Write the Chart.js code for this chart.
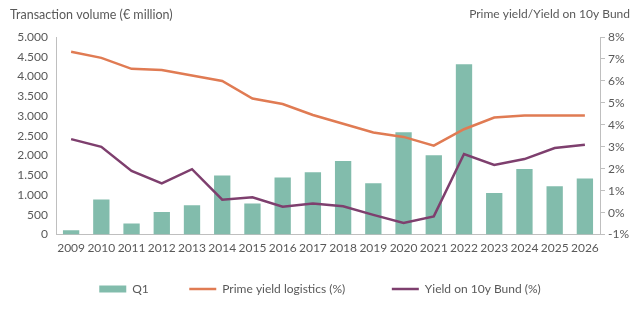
<!DOCTYPE html>
<html><head><meta charset="utf-8">
<script src="https://cdn.jsdelivr.net/npm/chart.js@4/dist/chart.umd.min.js"></script>
<style>html,body{margin:0;padding:0;background:#fff}#wrap{width:640px;height:332px}</style>
</head><body><div id="wrap"><canvas id="c" width="640" height="332"></canvas></div>
<script>
const years = ["2009","2010","2011","2012","2013","2014","2015","2016","2017","2018","2019","2020","2021","2022","2023","2024","2025","2026"];
const q1Volume = [110,885,280,570,740,1497,790,1446,1580,1862,1300,2590,2007,4310,1055,1660,1225,1420];
const primeYield = [7.33,7.05,6.55,6.5,6.25,6.0,5.2,4.95,4.45,4.05,3.65,3.45,3.05,3.8,4.33,4.42,4.42,4.42];
const bundYield = [3.35,3.0,1.9,1.33,1.98,0.59,0.7,0.27,0.42,0.29,-0.1,-0.47,-0.17,2.67,2.17,2.44,2.94,3.09];
const leftTitle = "Transaction volume (€ million)";
const rightTitle = "Prime yield/Yield on 10y Bund";

const FONT = "Lato, 'Open Sans', sans-serif";
const GREY = "#595959";
const GAPS = { 'Q1': '      ', 'Prime yield logistics (%)': '        ' };

const titles = {
  id: 'titles',
  afterDraw(chart) {
    const ctx = chart.ctx;
    ctx.save();
    ctx.fillStyle = GREY;
    ctx.textBaseline = 'middle';
    ctx.textAlign = 'left';
    ctx.font = "12.5px " + FONT;
    ctx.fillText(leftTitle, 10, 15);
    ctx.font = "12px " + FONT;
    ctx.textAlign = 'right';
    ctx.fillText(rightTitle, 630, 14);
    ctx.restore();
  }
};

new Chart(document.getElementById('c'), {
  data: {
    labels: years,
    datasets: [
      { type: 'line', label: 'Prime yield logistics (%)', data: primeYield, yAxisID: 'y1',
        borderColor: '#e07b53', backgroundColor: '#e07b53', borderWidth: 2.5, pointRadius: 0, tension: 0, order: 1, pointStyle: 'line' },
      { type: 'line', label: 'Yield on 10y Bund (%)', data: bundYield, yAxisID: 'y1',
        borderColor: '#7e3f6e', backgroundColor: '#7e3f6e', borderWidth: 2.5, pointRadius: 0, tension: 0, order: 0, pointStyle: 'line' },
      { type: 'bar', label: 'Q1', data: q1Volume, yAxisID: 'y',
        backgroundColor: '#82bcac', barPercentage: 0.54, categoryPercentage: 1, order: 2, pointStyle: 'rect' }
    ]
  },
  options: {
    responsive: false,
    animation: false,
    layout: { padding: { top: 37, bottom: 27, left: 0, right: 0 } },
    plugins: {
      legend: {
        position: 'bottom',
        reverse: true,
        labels: {
          usePointStyle: true, pointStyleWidth: 27, boxHeight: 7,
          color: GREY, font: { family: FONT, size: 12 }, padding: 22,
          generateLabels(chart) {
            const items = Chart.defaults.plugins.legend.labels.generateLabels(chart);
            items.forEach(it => { if (GAPS[it.text]) it.text = it.text + GAPS[it.text]; });
            return items;
          }
        }
      },
      tooltip: { enabled: false }
    },
    scales: {
      x: {
        grid: { display: false, drawTicks: false },
        border: { color: '#bfbfbf' },
        ticks: { color: GREY, font: { family: FONT, size: 12 }, maxRotation: 0, autoSkip: false, padding: 6 }
      },
      y: {
        position: 'left', min: 0, max: 5000,
        grid: { display: false, drawTicks: false },
        border: { color: '#bfbfbf' },
        ticks: { stepSize: 500, color: GREY, font: { family: FONT, size: 12 }, padding: 8,
          callback: v => v.toString().replace(/\B(?=(\d{3})+(?!\d))/g, '.') },
        afterFit(s) { s.width = 56; }
      },
      y1: {
        position: 'right', min: -1, max: 8,
        grid: { display: true, drawOnChartArea: false, drawTicks: true, tickLength: 5, color: '#bfbfbf' },
        border: { color: '#bfbfbf' },
        ticks: { stepSize: 1, color: GREY, font: { family: FONT, size: 12 }, padding: 3,
          callback: v => v + '%' },
        afterFit(s) { s.width = 40; }
      }
    }
  },
  plugins: [titles]
});
</script></body></html>
